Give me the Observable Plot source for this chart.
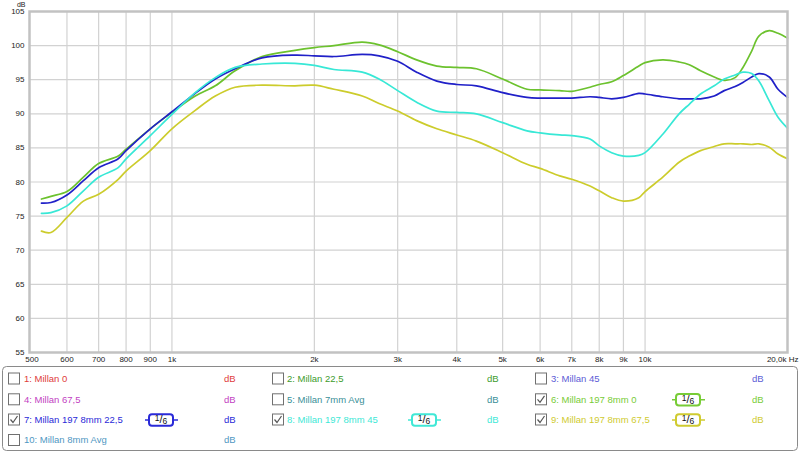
<!DOCTYPE html>
<html>
<head>
<meta charset="utf-8">
<script src="https://cdn.jsdelivr.net/npm/d3@7"></script>
<script src="https://cdn.jsdelivr.net/npm/@observablehq/plot@0.6"></script>
<style>
  html, body { margin: 0; padding: 0; background: #fff; }
  #wrap { position: relative; width: 800px; height: 453px; font-family: "Liberation Sans", Arial, sans-serif; }
  #chart svg { display: block; }
  #legend { position: absolute; left: 0; top: 364px; }
</style>
</head>
<body>
<div id="wrap">
  <div id="chart"></div>
  <svg id="legend" width="800" height="89"></svg>
</div>
<script>
// Frequencies (Hz)
const freqs = [530, 555, 600, 650, 700, 770, 800, 900, 1000, 1120, 1235, 1360, 1550, 1820, 2000, 2200, 2525, 2740, 3000, 3290, 3630, 4000, 4400, 5000, 5630, 6000, 6600, 7000, 7650, 8000, 8500, 9000, 9700, 10000, 10900, 11800, 12400, 13100, 14000, 14700, 15500, 16100, 16800, 17400, 18300, 19100, 20000];

// 6: Millan 197 8mm 0 (dB)
const millan6 = [77.5, 77.9, 78.6, 80.7, 82.7, 83.8, 84.8, 87.8, 90.2, 92.6, 94.1, 96.3, 98.4, 99.3, 99.7, 100.0, 100.5, 100.1, 99.1, 97.9, 97.0, 96.8, 96.6, 95.1, 93.6, 93.5, 93.4, 93.3, 93.9, 94.3, 94.7, 95.6, 97.0, 97.5, 97.9, 97.6, 97.2, 96.3, 95.4, 94.9, 95.3, 96.8, 99.2, 101.4, 102.2, 101.8, 101.1];
// 7: Millan 197 8mm 22,5
const millan7 = [76.9, 77.0, 78.1, 80.2, 82.1, 83.4, 84.6, 87.8, 90.3, 93.0, 95.1, 96.6, 98.2, 98.6, 98.5, 98.4, 98.7, 98.5, 97.7, 96.1, 94.8, 94.3, 94.1, 93.1, 92.4, 92.3, 92.3, 92.3, 92.5, 92.4, 92.2, 92.4, 93.0, 92.9, 92.5, 92.2, 92.2, 92.2, 92.6, 93.4, 94.0, 94.6, 95.4, 95.9, 95.4, 93.6, 92.4];
// 8: Millan 197 8mm 45
const millan8 = [75.4, 75.5, 76.5, 78.7, 80.7, 82.1, 83.4, 86.8, 89.9, 93.1, 95.3, 96.8, 97.3, 97.4, 97.1, 96.5, 96.1, 95.1, 93.4, 91.7, 90.4, 90.2, 90.0, 88.7, 87.5, 87.2, 86.9, 86.8, 86.3, 85.3, 84.3, 83.8, 83.9, 84.3, 87.0, 90.0, 91.4, 92.9, 94.1, 95.1, 95.7, 96.1, 95.9, 94.8, 91.9, 89.5, 87.9];
// 9: Millan 197 8mm 67,5
const millan9 = [72.8, 72.6, 74.8, 77.2, 78.2, 80.4, 81.6, 84.6, 87.8, 90.5, 92.6, 93.9, 94.2, 94.1, 94.2, 93.6, 92.6, 91.5, 90.4, 89.0, 87.8, 86.9, 86.0, 84.3, 82.6, 82.0, 80.9, 80.4, 79.4, 78.7, 77.7, 77.2, 77.7, 78.6, 80.7, 82.9, 83.8, 84.6, 85.2, 85.6, 85.6, 85.6, 85.5, 85.6, 85.1, 84.1, 83.4];

const xTickValues = [500, 600, 700, 800, 900, 1000, 2000, 3000, 4000, 5000, 6000, 7000, 8000, 9000, 10000];
const xTickLabels = ["500", "600", "700", "800", "900", "1k", "2k", "3k", "4k", "5k", "6k", "7k", "8k", "9k", "10k"];
const yTickValues = [55, 60, 65, 70, 75, 80, 85, 90, 95, 100, 105];

const legendNames = ["1: Millan 0", "2: Millan 22,5", "3: Millan 45", "4: Millan 67,5", "5: Millan 7mm Avg", "6: Millan 197 8mm 0", "7: Millan 197 8mm 22,5", "8: Millan 197 8mm 45", "9: Millan 197 8mm 67,5", "10: Millan 8mm Avg"];
const legendColors = ["#e03c3c", "#3d9c2c", "#5c5cd6", "#c23fc2", "#3a8f98", "#78cc36", "#2a2ad8", "#40e8d6", "#cfcb30", "#4f97c2"];
const legendChecked = [false, false, false, false, false, true, true, true, true, false];

const seriesNames = ["6", "7", "8", "9"];
const seriesColors = ["#6cc22e", "#2020c8", "#38e8d6", "#cccc2c"];

const table = [];
[millan6, millan7, millan8, millan9].forEach((vals, s) => {
  vals.forEach((v, i) => table.push({f: freqs[i], v, s: seriesNames[s]}));
});

const xTicks = xTickValues.map((f, i) => ({f, label: xTickLabels[i]}));

const chart = Plot.plot({
  width: 800,
  height: 364,
  marginLeft: 29,
  marginRight: 13,
  marginTop: 11,
  marginBottom: 12,
  style: {fontFamily: "'Liberation Sans', Arial, sans-serif", background: "#fff"},
  x: {type: "log", domain: [500, 20000], axis: null},
  y: {domain: [55, 105], axis: null},
  color: {domain: seriesNames, range: seriesColors},
  marks: [
    Plot.ruleX(xTickValues.slice(1), {stroke: "#d2d2d2", strokeWidth: 1.2}),
    Plot.ruleY(yTickValues.slice(1, -1), {stroke: "#d2d2d2", strokeWidth: 1.2}),
    Plot.line(table, {x: "f", y: "v", z: "s", stroke: "s", strokeWidth: 1.7, curve: "catmull-rom"}),
    Plot.frame({stroke: "#c2c2c2", strokeWidth: 2.5}),
    Plot.text(xTicks.slice(0, 1), {x: "f", text: "label", frameAnchor: "bottom", dx: 2.5, dy: 9.5, fontSize: 8, fill: "#222"}),
    Plot.text(xTicks.slice(1), {x: "f", text: "label", frameAnchor: "bottom", dy: 9, fontSize: 8, fill: "#222"}),
    Plot.text(["20,0k Hz"], {x: () => 20000, frameAnchor: "bottom", dx: 11, dy: 9, textAnchor: "end", fontSize: 8, fill: "#222"}),
    Plot.axisY(yTickValues, {tickSize: 0, tickPadding: 5, fontSize: 8, fill: "#222", label: null}),
    Plot.text(["dB"], {frameAnchor: "top-left", dx: -4, dy: -9, textAnchor: "end", fontSize: 7, fill: "#222"})
  ]
});
document.getElementById("chart").appendChild(chart);

// Legend panel
const lg = d3.select("#legend");
const top0 = 364;
lg.append("rect").attr("x", 2.5).attr("y", 366.5 - top0).attr("width", 795).attr("height", 84)
  .attr("rx", 4).attr("fill", "#fff").attr("stroke", "#8a8a8a").attr("stroke-width", 1);

const colBox = [8.5, 272.5, 535.5];
const colText = [24, 287, 551];
const colDb = [224, 487, 752];
const colBadge = [161, 424, 688];
const rowY = [378.5, 399.3, 419.5, 440];

legendNames.forEach((name, i) => {
  const c = i % 3, r = Math.floor(i / 3);
  const cy = rowY[r] - top0;
  const g = lg.append("g");
  g.append("rect").attr("x", colBox[c]).attr("y", cy - 5.5).attr("width", 11).attr("height", 11)
    .attr("fill", "#fff").attr("stroke", "#707070").attr("stroke-width", 1);
  if (legendChecked[i]) {
    g.append("path").attr("d", `M${colBox[c] + 2},${cy} L${colBox[c] + 4.5},${cy + 3} L${colBox[c] + 9},${cy - 3.5}`)
      .attr("fill", "none").attr("stroke", "#555").attr("stroke-width", 1.2);
  }
  g.append("text").attr("x", colText[c]).attr("y", cy).attr("dy", "0.35em")
    .attr("font-size", 9.5).attr("fill", legendColors[i]).text(name);
  g.append("text").attr("x", colDb[c]).attr("y", cy).attr("dy", "0.35em")
    .attr("font-size", 9.5).attr("fill", legendColors[i]).text("dB");
  if (legendChecked[i]) {
    const bx = colBadge[c];
    g.append("line").attr("x1", bx - 16).attr("x2", bx + 17).attr("y1", cy + 0.5).attr("y2", cy + 0.5)
      .attr("stroke", legendColors[i]).attr("stroke-width", 1.5);
    g.append("rect").attr("x", bx - 12).attr("y", cy - 5.2).attr("width", 24).attr("height", 11.5)
      .attr("rx", 3).attr("fill", "#fff").attr("stroke", legendColors[i]).attr("stroke-width", 2);
    const t = g.append("text").attr("x", bx).attr("y", cy + 3.5).attr("text-anchor", "middle")
      .attr("font-size", 11).attr("fill", "#111");
    t.append("tspan").attr("font-size", 8.5).attr("dy", -2).text("1");
    t.append("tspan").attr("dy", 2).text("/");
    t.append("tspan").attr("font-size", 8.5).attr("dy", 1).text("6");
  }
});
</script>
</body>
</html>
